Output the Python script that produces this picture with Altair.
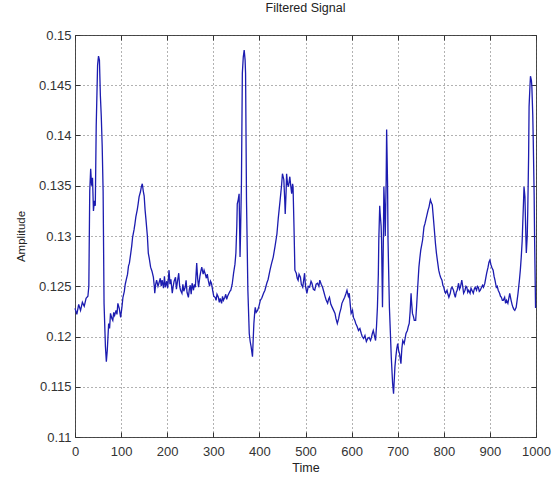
import altair as alt
import pandas as pd

T = [0,4,8,12,16,20,24,28,30,32,34,36,38,40,42,44,46,49,51,53,55,57,59,61,63,66,68,70,73,75,77,80,82,84,86,89,91,93,96,99,
     102,104,107,109,111,114,116,118,121,123,125,128,130,132,135,137,139,142,144,146,148,150,152,154,157,159,161,164,167,170,
     172,173,175,177,180,182,185,187,189,192,194,196,199,201,204,206,208,211,213,215,218,220,222,225,227,229,232,234,236,239,
     241,243,246,248,250,252,254,257,259,261,264,266,268,271,273,275,278,280,282,285,287,289,292,294,296,299,301,304,306,308,
     311,313,315,318,320,322,325,327,329,331,334,336,338,341,344,347,349,351,352,354,356,358,359,361,363,365,367,369,370,372,
     375,378,380,382,385,388,390,391,393,396,399,402,405,409,412,416,419,423,426,430,434,438,441,445,448,450,453,455,456,458,
     459,461,463,466,468,470,472,473,475,477,480,482,484,486,489,491,494,496,498,500,503,506,509,512,514,517,520,523,526,529,
     531,534,537,540,543,545,548,550,552,555,558,561,564,566,569,572,574,577,579,582,585,588,590,593,595,597,599,602,604,607,
     609,612,615,618,621,623,626,629,632,635,638,641,643,645,647,650,652,654,656,658,659,661,662,664,665,667,669,670,672,673,
     675,676,678,679,682,684,686,689,691,694,696,698,700,702,704,707,709,711,714,716,718,721,723,725,727,729,730,732,734,736,
     739,741,743,746,748,750,752,754,757,759,761,764,766,768,770,771,773,775,777,779,782,784,786,789,791,793,796,798,800,802,
     804,807,809,811,814,816,818,821,823,825,827,829,832,834,836,839,841,843,846,848,850,852,854,857,859,861,864,866,868,871,
     873,875,877,879,882,884,886,889,891,893,896,898,900,902,904,907,909,911,914,916,918,921,923,925,927,929,932,934,936,939,
     941,943,946,948,950,952,954,957,959,961,964,966,968,970,971,973,974,976,978,979,981,982,984,985,987,988,990,991,993,994,
     996,997,999,1000]

V = [0.1228,0.1222,0.1232,0.1226,0.1234,0.1230,0.1238,0.1240,0.1250,0.1345,0.1367,0.1350,0.1358,0.1325,0.1335,0.1330,0.1409,0.1470,0.1479,0.1475,
     0.1440,0.1419,0.1389,0.1344,0.1233,0.1190,0.1175,0.1186,0.1213,0.1208,0.1223,0.1218,0.1216,0.1224,0.1221,0.1226,0.1222,0.1233,0.1228,0.1219,
     0.1230,0.1239,0.1245,0.1252,0.1256,0.1262,0.1270,0.1273,0.1283,0.1290,0.1299,0.1306,0.1312,0.1319,0.1326,0.1332,0.1339,0.1344,0.1349,0.1352,
     0.1345,0.1340,0.1326,0.1316,0.1300,0.1283,0.1278,0.1269,0.1265,0.1259,0.1250,0.1243,0.1252,0.1256,0.1250,0.1253,0.1258,0.1250,0.1256,0.1248,
     0.1260,0.1249,0.1255,0.1248,0.1266,0.1252,0.1257,0.1243,0.1250,0.1255,0.1259,0.1247,0.1254,0.1263,0.1250,0.1246,0.1243,0.1252,0.1245,0.1249,
     0.1256,0.1244,0.1239,0.1247,0.1251,0.1242,0.1253,0.1246,0.1252,0.1249,0.1273,0.1258,0.1249,0.1260,0.1265,0.1269,0.1262,0.1266,0.1263,0.1258,
     0.1262,0.1256,0.1250,0.1255,0.1253,0.1245,0.1240,0.1239,0.1236,0.1242,0.1239,0.1234,0.1238,0.1233,0.1240,0.1236,0.1239,0.1242,0.1237,0.1240,
     0.1243,0.1245,0.1246,0.1252,0.1263,0.1272,0.1283,0.1310,0.1332,0.1336,0.1342,0.1279,0.1300,0.1352,0.1462,0.1478,0.1485,0.1475,0.1462,0.1336,
     0.1246,0.1203,0.1195,0.1190,0.1180,0.1213,0.1225,0.1229,0.1224,0.1226,0.1230,0.1236,0.1238,0.1243,0.1246,0.1253,0.1257,0.1266,0.1272,0.1279,
     0.1290,0.1302,0.1318,0.1336,0.1350,0.1362,0.1356,0.1335,0.1322,0.1345,0.1362,0.1352,0.1349,0.1359,0.1350,0.1342,0.1352,0.1349,0.1310,0.1266,
     0.1263,0.1258,0.1256,0.1262,0.1259,0.1252,0.1249,0.1256,0.1263,0.1250,0.1243,0.1250,0.1249,0.1255,0.1253,0.1247,0.1246,0.1252,0.1253,0.1250,
     0.1256,0.1252,0.1249,0.1244,0.1239,0.1236,0.1233,0.1237,0.1239,0.1232,0.1229,0.1226,0.1223,0.1218,0.1213,0.1218,0.1223,0.1228,0.1233,0.1236,
     0.1239,0.1243,0.1246,0.1240,0.1243,0.1232,0.1223,0.1226,0.1219,0.1216,0.1213,0.1210,0.1206,0.1208,0.1203,0.1200,0.1198,0.1201,0.1195,0.1198,
     0.1199,0.1196,0.1199,0.1203,0.1206,0.1200,0.1196,0.1210,0.1229,0.1262,0.1296,0.1330,0.1322,0.1310,0.1296,0.1229,0.1300,0.1349,0.1322,0.1300,
     0.1356,0.1406,0.1352,0.1296,0.1229,0.1205,0.1180,0.1153,0.1143,0.1170,0.1180,0.1188,0.1193,0.1186,0.1183,0.1173,0.1188,0.1196,0.1193,0.1198,
     0.1203,0.1206,0.1210,0.1213,0.1225,0.1243,0.1235,0.1223,0.1220,0.1216,0.1216,0.1230,0.1246,0.1269,0.1278,0.1286,0.1291,0.1296,0.1309,0.1312,
     0.1316,0.1322,0.1326,0.1329,0.1334,0.1336,0.1333,0.1331,0.1320,0.1309,0.1292,0.1283,0.1276,0.1266,0.1262,0.1259,0.1256,0.1251,0.1249,0.1245,
     0.1243,0.1246,0.1242,0.1239,0.1243,0.1248,0.1249,0.1246,0.1242,0.1239,0.1244,0.1246,0.1253,0.1247,0.1249,0.1256,0.1250,0.1243,0.1246,0.1250,
     0.1249,0.1244,0.1246,0.1243,0.1248,0.1246,0.1243,0.1247,0.1249,0.1246,0.1250,0.1249,0.1245,0.1246,0.1249,0.1251,0.1249,0.1253,0.1258,0.1263,
     0.1269,0.1274,0.1276,0.1272,0.1269,0.1266,0.1260,0.1256,0.1249,0.1250,0.1246,0.1243,0.1240,0.1239,0.1236,0.1236,0.1239,0.1233,0.1236,0.1233,
     0.1238,0.1243,0.1236,0.1232,0.1229,0.1227,0.1226,0.1229,0.1236,0.1243,0.1256,0.1266,0.1279,0.1295,0.1309,0.1335,0.1349,0.1339,0.1300,0.1283,
     0.1300,0.1322,0.1380,0.1429,0.1450,0.1459,0.1455,0.1449,0.1420,0.1396,0.1340,0.1296,0.1229,0.1229]

X_TICKS = [0, 100, 200, 300, 400, 500, 600, 700, 800, 900, 1000]
Y_TICKS = [0.11, 0.115, 0.12, 0.125, 0.13, 0.135, 0.14, 0.145, 0.15]

df = pd.DataFrame({"Time": T, "Amplitude": V})

FONT = "Liberation Sans"
LINE_COLOR = "#1c1cb0"

xs = alt.Scale(domain=[0, 1000], nice=False, zero=False)
ys = alt.Scale(domain=[0.11, 0.15], nice=False, zero=False)

main = alt.Chart(df).mark_line(color=LINE_COLOR, strokeWidth=1.3).encode(
    x=alt.X("Time:Q", scale=xs, axis=alt.Axis(
        values=X_TICKS, format="d", title="Time", orient="bottom",
        grid=True, gridDash=[1, 3], gridColor="#555", gridOpacity=0.9,
        ticks=False, domain=False, labelPadding=8, labelFontSize=13,
        labelColor="#333", labelFont=FONT, titleFont=FONT, titleFontSize=12.5,
        titleFontWeight="normal", titleColor="#222", titlePadding=3,
        labelFlush=False)),
    y=alt.Y("Amplitude:Q", scale=ys, axis=alt.Axis(
        values=Y_TICKS, format="~g", title="Amplitude", orient="left",
        grid=True, gridDash=[1, 3], gridColor="#555", gridOpacity=0.9,
        ticks=False, domain=False, labelPadding=4, labelFontSize=13,
        labelColor="#333", labelFont=FONT, titleFont=FONT, titleFontSize=11.5,
        titleFontWeight="normal", titleColor="#222", titlePadding=12,
        labelFlush=False)),
)

tick_axis = dict(grid=False, labels=False, domain=False, title=None,
                 tickSize=5, tickColor="#333", offset=-5)

ticks_tr = alt.Chart(df).mark_line(opacity=0).encode(
    x=alt.X("Time:Q", scale=xs, axis=alt.Axis(values=X_TICKS, orient="top", **tick_axis)),
    y=alt.Y("Amplitude:Q", scale=ys, axis=alt.Axis(values=Y_TICKS, orient="right", **tick_axis)),
)
ticks_bl = alt.Chart(df).mark_line(opacity=0).encode(
    x=alt.X("Time:Q", scale=xs, axis=alt.Axis(values=X_TICKS, orient="bottom", **tick_axis)),
    y=alt.Y("Amplitude:Q", scale=ys, axis=alt.Axis(values=Y_TICKS, orient="left", **tick_axis)),
)

chart = alt.layer(main, ticks_tr, ticks_bl).resolve_axis(
    x="independent", y="independent"
).properties(
    width=461, height=402,
    title=alt.TitleParams("Filtered Signal", font=FONT, fontSize=12.5,
                          fontWeight="normal", color="#222", frame="group",
                          anchor="middle", offset=15),
    autosize=alt.AutoSizeParams(type="none"),
    padding={"left": 75, "top": 35, "right": 17, "bottom": 42},
    background="white",
).configure_view(stroke="#444", strokeWidth=1)

chart.save("out.html", embed_options={"renderer": "svg", "actions": False})
